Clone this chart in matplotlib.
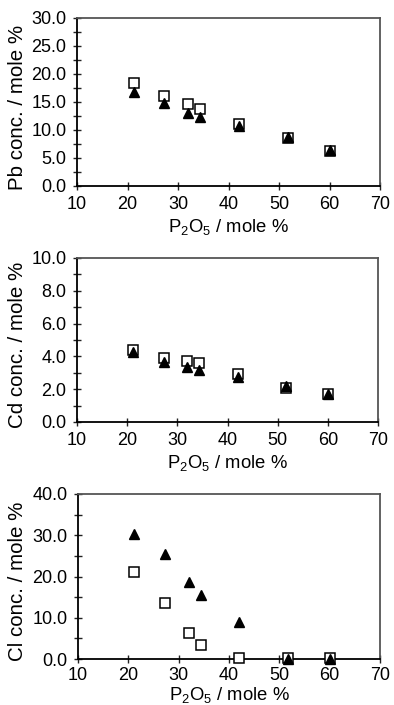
import matplotlib
matplotlib.use("Agg")
import matplotlib.pyplot as plt
from matplotlib.ticker import MultipleLocator, FormatStrFormatter

plt.rcParams['font.family'] = ['Liberation Sans', 'DejaVu Sans']
plt.rcParams['mathtext.fontset'] = 'custom'
plt.rcParams['mathtext.rm'] = 'Liberation Sans'

p2o5 = [21.2, 27.3, 32.0, 34.4, 42.0, 51.7, 60.0]

pb_square = [18.35, 16.0, 14.6, 13.7, 11.06, 8.5, 6.3]
pb_triangle = [16.7, 14.8, 13.0, 12.4, 10.7, 8.8, 6.5]

cd_square = [4.39, 3.92, 3.73, 3.61, 2.92, 2.1, 1.69]
cd_triangle = [4.29, 3.63, 3.37, 3.2, 2.76, 2.18, 1.73]

cl_square = [21.2, 13.6, 6.2, 3.5, 0.3, 0.15, 0.15]
cl_triangle = [30.4, 25.5, 18.7, 15.5, 9.05, 0.0, 0.0]

ylabels = ["Pb conc. / mole %", "Cd conc. / mole %", "Cl conc. / mole %"]
ymax = [30.0, 10.0, 40.0]
ymajor = [5.0, 2.0, 10.0]
yminor = [2.5, 1.0, 5.0]
xlabel = r"P$_\mathregular{2}$O$_\mathregular{5}$ / mole %"

W, H = 394, 705
fig = plt.figure(figsize=(W / 100, H / 100), dpi=100)

boxes = [(77, 380, 18, 186), (77, 378, 258, 422), (78, 380, 494, 659)]
xpads = [4.5, 4.5, 3.0]
xlabelpads = [2.5, 2.5, 0.5]
series = [(pb_square, pb_triangle), (cd_square, cd_triangle), (cl_square, cl_triangle)]

for i, (l, r, t, b) in enumerate(boxes):
    ax = fig.add_axes([l / W, 1 - b / H, (r - l) / W, (b - t) / H])
    sq, tr = series[i]
    ax.plot(p2o5, sq, linestyle='none', marker='s', markersize=6.5,
            markerfacecolor='white', markeredgecolor='black', markeredgewidth=1.1,
            clip_on=False, zorder=3)
    ax.plot(p2o5, tr, linestyle='none', marker='^', markersize=7.5,
            markerfacecolor='black', markeredgecolor='black',
            clip_on=False, zorder=4)
    ax.set_xlim(10, 70)
    ax.set_ylim(0, ymax[i])
    ax.xaxis.set_major_locator(MultipleLocator(10))
    ax.yaxis.set_major_locator(MultipleLocator(ymajor[i]))
    ax.yaxis.set_minor_locator(MultipleLocator(yminor[i]))
    ax.yaxis.set_major_formatter(FormatStrFormatter('%.1f'))
    ax.tick_params(axis='both', which='major', direction='inout', length=6,
                   width=1.0, labelsize=13, color='#222222')
    ax.tick_params(axis='x', which='major', pad=xpads[i])
    ax.tick_params(axis='y', which='major', pad=4.5)
    ax.tick_params(axis='y', which='minor', direction='inout', length=6,
                   width=1.0, color='#222222')
    ax.tick_params(top=False, right=False)
    for s in ['left', 'bottom']:
        ax.spines[s].set_color('black')
        ax.spines[s].set_linewidth(1.3)
    for s in ['top', 'right']:
        ax.spines[s].set_color('#555555')
        ax.spines[s].set_linewidth(1.3)
    ax.set_ylabel(ylabels[i], fontsize=14.8)
    ax.yaxis.set_label_coords((27 - l) / (r - l), 0.47)
    ax.set_xlabel(xlabel, fontsize=13.3, labelpad=xlabelpads[i])

fig.savefig("out.png", dpi=100)
